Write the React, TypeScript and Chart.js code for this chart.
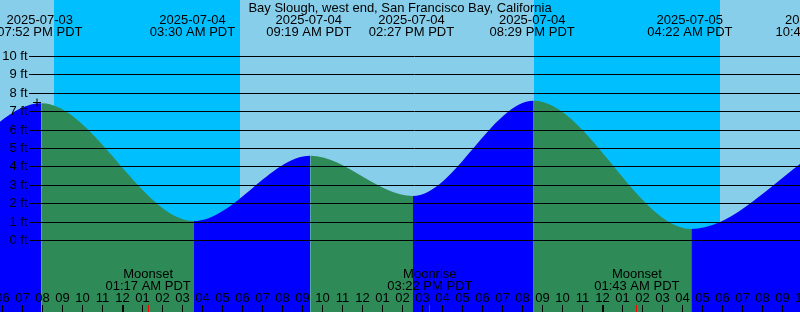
import React, { useEffect, useRef } from 'react';
import { Chart, registerables } from 'chart.js';

Chart.register(...registerables);

// ---- data ----
const TITLE = 'Bay Slough, west end, San Francisco Bay, California';
const TZ = 'PDT';
const REF_Y = 2025, REF_M = 7, REF_D = 4; // hours are counted from this midnight

// tide extremes (first and last lie just outside the view)
const tideTimes = [
  '2025-07-03 13:36',
  '2025-07-03 19:52',
  '2025-07-04 03:30',
  '2025-07-04 09:19',
  '2025-07-04 14:27',
  '2025-07-04 20:29',
  '2025-07-05 04:22',
  '2025-07-05 10:47',
];
const tideHeights = [1.9, 7.46, 1.06, 4.61, 2.42, 7.6, 0.63, 4.9];
const labelledTides = [false, true, true, true, true, true, true, true];

const moonTimes = ['2025-07-04 01:17', '2025-07-04 15:22', '2025-07-05 01:43'];
const moonEvents = ['Moonset', 'Moonrise', 'Moonset'];

// sunset, sunrise, sunset, sunrise
const sunTimes = ['2025-07-03 20:35', '2025-07-04 05:52', '2025-07-04 20:35', '2025-07-05 05:52'];

const heightTicks = [0, 1, 2, 3, 4, 5, 6, 7, 8, 9, 10];

const markTimes = ['2025-07-03 19:39'];
const markHeights = [7.5];

// view window
const X_MIN = -6.2;
const X_MAX = 33.8;
const Y_MIN = -3.886;
const Y_MAX = 13.071;

// ---- styles ----
const DAY = '#87CEEB';
const NIGHT = '#00BFFF';
const FLOOD = '#0000FF';
const EBB = '#2E8B57';
const FONT = '13px "Liberation Sans", Arial, sans-serif';
const LABEL_SHIFT = -1.5;

function hoursOf(s: string): number {
  const [d, t] = s.split(' ');
  const [y, m, dd] = d.split('-').map(Number);
  const [hh, mm] = t.split(':').map(Number);
  const dayDiff = (Date.UTC(y, m - 1, dd) - Date.UTC(REF_Y, REF_M - 1, REF_D)) / 86400000;
  return dayDiff * 24 + hh + mm / 60;
}

function fmtTime(s: string): string {
  const t = s.split(' ')[1];
  const [hh, mm] = t.split(':').map(Number);
  const ap = hh >= 12 ? 'PM' : 'AM';
  let h12 = hh % 12;
  if (h12 === 0) h12 = 12;
  return `${String(h12).padStart(2, '0')}:${String(mm).padStart(2, '0')} ${ap} ${TZ}`;
}

function hourLabel(h: number): string {
  const hh = ((h % 24) + 24) % 24;
  let h12 = hh % 12;
  if (h12 === 0) h12 = 12;
  return String(h12).padStart(2, '0');
}

const tidePoints = tideTimes.map((t, i) => ({ x: hoursOf(t), y: tideHeights[i] }));
const markPoints = markTimes.map((t, i) => ({ x: hoursOf(t), y: markHeights[i] }));

const xtidePlugin = {
  id: 'xtide',
  beforeDraw(chart: any) {
    const { ctx, scales } = chart;
    const xs = scales.x;
    const W = chart.width, H = chart.height;
    ctx.save();
    // day / night bands: starts in daylight
    const edges = [0, ...sunTimes.map((t) => Math.round(xs.getPixelForValue(hoursOf(t)) + LABEL_SHIFT)), W];
    for (let i = 0; i < edges.length - 1; i++) {
      ctx.fillStyle = i % 2 === 0 ? DAY : NIGHT;
      ctx.fillRect(edges[i], 0, edges[i + 1] - edges[i], H);
    }
    ctx.restore();
  },
  afterDatasetsDraw(chart: any) {
    const { ctx, scales } = chart;
    const xs = scales.x, ys = scales.y;
    const W = chart.width, H = chart.height;
    ctx.save();
    ctx.font = FONT;
    ctx.fillStyle = '#000';
    ctx.strokeStyle = '#000';
    ctx.lineWidth = 1;

    // height lines + labels
    heightTicks.forEach((v) => {
      const row = Math.floor(ys.getPixelForValue(v));
      ctx.beginPath();
      ctx.moveTo(29, row + 0.5);
      ctx.lineTo(W, row + 0.5);
      ctx.stroke();
      ctx.textAlign = 'right';
      ctx.textBaseline = 'alphabetic';
      ctx.fillText(`${v} ft`, 27.5, row + 4);
    });

    // hour ticks + labels
    ctx.textAlign = 'center';
    ctx.textBaseline = 'alphabetic';
    for (let h = Math.floor(X_MIN) - 1; h <= Math.ceil(X_MAX) + 1; h++) {
      const px = xs.getPixelForValue(h) + LABEL_SHIFT;
      ctx.fillStyle = '#000';
      ctx.fillText(hourLabel(h), px, H - 10);
      if (((h % 24) + 24) % 24 === 0) {
        ctx.fillRect(Math.round(px) - 1, H - 7, 2, 7);
      } else {
        ctx.fillRect(Math.floor(px), H - 7, 1, 7);
      }
    }

    // moon events
    moonTimes.forEach((t, i) => {
      const px = xs.getPixelForValue(hoursOf(t)) + LABEL_SHIFT;
      ctx.fillStyle = '#FF0000';
      ctx.fillRect(Math.floor(px), H - 7, 1, 7);
      ctx.fillStyle = '#000';
      ctx.fillText(moonEvents[i], px, H - 34);
      ctx.fillText(fmtTime(t), px, H - 22);
    });

    // tide event labels at top
    tideTimes.forEach((t, i) => {
      if (!labelledTides[i]) return;
      const px = xs.getPixelForValue(hoursOf(t)) + LABEL_SHIFT;
      ctx.fillStyle = '#000';
      ctx.fillText(t.split(' ')[0], px, 24);
      ctx.fillText(fmtTime(t), px, 36);
    });

    // title
    ctx.fillText(TITLE, W / 2, 12);
    ctx.restore();
  },
};

export default function App() {
  const ref = useRef<HTMLCanvasElement>(null);
  useEffect(() => {
    const canvas = ref.current!;
    const chart = new Chart(canvas, {
      type: 'line',
      data: {
        datasets: [
          {
            data: markPoints,
            showLine: false,
            pointStyle: 'cross',
            pointRadius: 4,
            borderColor: '#000',
            borderWidth: 1,
            fill: false,
            order: 0,
          } as any,
          {
            data: tidePoints,
            fill: 'start',
            cubicInterpolationMode: 'monotone',
            pointRadius: 0,
            borderWidth: 0,
            borderColor: 'rgba(0,0,0,0)',
            backgroundColor: EBB,
            segment: {
              backgroundColor: (c: any) => (c.p1.parsed.y > c.p0.parsed.y ? FLOOD : EBB),
            },
            order: 1,
          } as any,
        ],
      },
      options: {
        responsive: false,
        animation: false,
        devicePixelRatio: 1,
        events: [],
        layout: { padding: 0, autoPadding: false },
        plugins: {
          legend: { display: false },
          tooltip: { enabled: false },
          title: { display: false },
        },
        elements: { line: { capBezierPoints: false } },
        scales: {
          x: { type: 'linear', min: X_MIN, max: X_MAX, display: false },
          y: { type: 'linear', min: Y_MIN, max: Y_MAX, display: false },
        },
      } as any,
      plugins: [xtidePlugin],
    });
    return () => chart.destroy();
  }, []);
  return (
    <div style={{ position: 'fixed', left: 0, top: 0, width: 800, height: 312 }}>
      <canvas ref={ref} width={800} height={312} style={{ display: 'block', width: 800, height: 312 }} />
    </div>
  );
}
